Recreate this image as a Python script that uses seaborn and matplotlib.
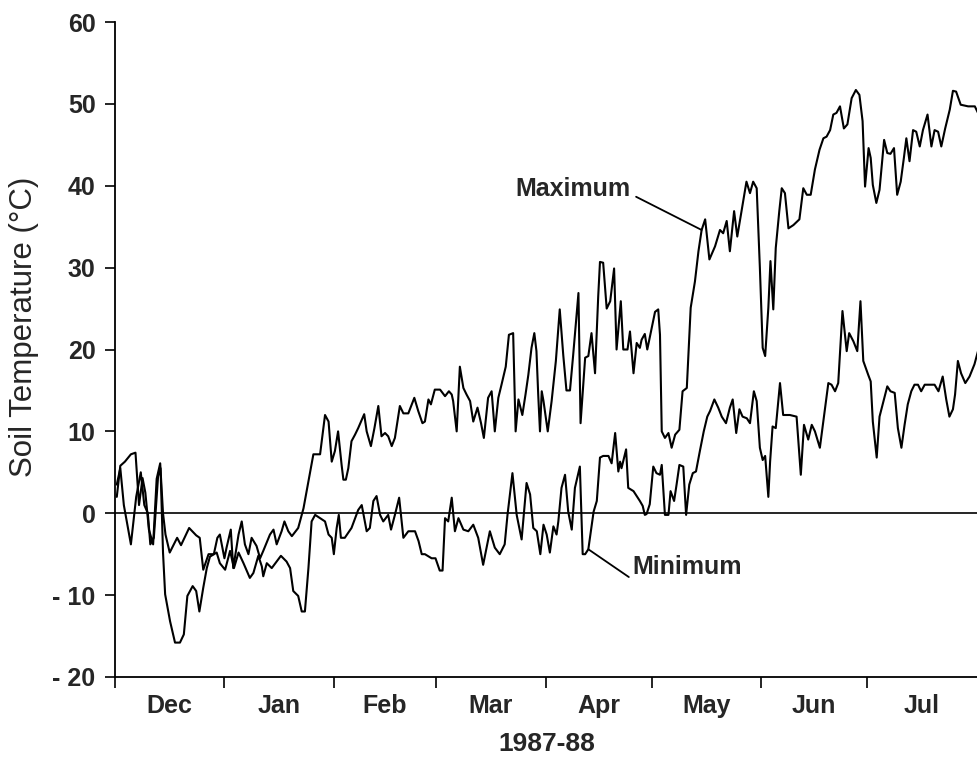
import numpy as np
import pandas as pd
import matplotlib
matplotlib.use("Agg")
import matplotlib.pyplot as plt
import seaborn as sns

# Daily soil temperature extremes, December 1987 - July 1988.
# Day 0 = 1 December 1987.
month_labels = ["Dec", "Jan", "Feb", "Mar", "Apr", "May", "Jun", "Jul"]
month_lengths = [31, 31, 29, 31, 30, 31, 30, 31]
y_ticks = [-20, -10, 0, 10, 20, 30, 40, 50, 60]
y_tick_labels = ["- 20", "- 10", "0", "10", "20", "30", "40", "50", "60"]

max_day = [0.5, 1.5, 2.8, 4.5, 5.8, 6.8, 7.8, 8.6, 9.6, 10.8, 11.8, 12.8, 13.6, 14.3,
           15.5, 17.6, 18.7, 21.0, 23.0, 24.0, 25.0, 26.5, 28.0, 29.0, 29.7, 31.0,
           31.6, 32.8, 33.5, 35.0, 35.9, 36.8, 37.8, 38.7, 40.1, 41.1, 42.0, 43.9,
           44.9, 45.8, 47.2, 48.0, 49.1, 50.1, 51.9, 53.4, 56.2, 58.1, 59.5, 60.5,
           61.4, 62.3, 63.2, 64.2, 64.7, 65.4, 66.1, 67.0, 68.0, 68.9, 70.6, 71.3,
           72.5, 73.5, 74.6, 75.5, 76.5, 77.4, 78.4, 79.3, 80.7, 81.7, 83.1, 84.8,
           85.9, 87.1, 87.8, 88.8, 89.5, 90.6, 92.1, 93.5, 94.6, 95.4, 95.8, 96.8,
           97.7, 98.7, 99.6, 100.6, 101.5, 102.7, 103.7, 104.5, 105.7, 106.7, 107.6,
           108.6, 109.5, 110.7, 111.6, 112.8, 113.5, 114.3, 115.4, 116.3, 117.1,
           118.0, 118.8, 119.4, 119.9, 120.4, 120.9, 121.4, 122.6, 123.7, 124.9,
           126.0, 127.0, 127.9, 128.9, 129.8, 131.3, 131.9, 133.2, 134.1, 135.0,
           136.0, 136.9, 137.4, 138.3, 139.3, 140.3, 141.4, 142.1, 143.3, 144.0,
           145.2, 145.9, 146.9, 147.8, 148.7, 149.2, 150.1, 150.8, 153.0, 153.9,
           154.4, 154.9, 155.8, 156.8, 157.7, 158.7, 159.9, 160.8, 162.0, 163.1,
           164.3, 165.3, 166.2, 167.2, 168.4, 170.0, 171.4, 172.3, 173.3, 174.2,
           175.4, 176.3, 177.5, 178.9, 179.9, 180.8, 181.8, 182.7, 183.5, 184.2,
           185.1, 185.7, 186.5, 187.2, 188.2, 188.9, 189.8, 190.8, 192.2, 193.9,
           195.0, 196.0, 197.1, 198.3, 199.6, 200.7, 201.6, 202.6, 203.5, 204.4,
           205.4, 206.5, 207.5, 208.7, 209.9, 210.9, 211.8, 212.5, 213.5, 214.1,
           214.7, 215.7, 216.6, 217.9, 218.8, 219.7, 220.7, 221.6, 222.6, 223.5,
           224.2, 225.1, 226.1, 227.0, 228.0, 228.9, 230.2, 231.3, 232.2, 233.2,
           234.1, 235.2, 236.5, 237.4, 238.3, 239.6, 241.7, 243.6, 244.5]
max_temp = [2.0, 5.8, 6.3, 7.2, 7.4, 1.0, 4.3, 2.5, -2.0, -3.8, 4.2, 6.1, 0.0, -2.6,
            -4.8, -3.0, -3.9, -1.8, -2.7, -3.0, -6.9, -5.0, -5.0, -3.0, -2.6, -5.5,
            -4.2, -2.0, -6.7, -2.6, -1.0, -3.8, -5.0, -3.0, -4.0, -5.5, -4.6, -2.6,
            -2.0, -3.8, -2.2, -1.0, -2.2, -2.8, -1.8, 0.6, 7.2, 7.2, 12.0, 11.2,
            6.3, 7.6, 10.0, 5.9, 4.1, 4.1, 5.5, 8.8, 9.6, 10.4, 12.1, 10.0,
            8.2, 10.4, 13.1, 9.4, 9.8, 9.4, 8.2, 9.2, 13.1, 12.2, 12.2, 14.1,
            12.5, 11.0, 11.2, 13.9, 13.3, 15.1, 15.1, 14.3, 14.9, 14.5, 13.7, 10.0,
            17.9, 15.3, 14.5, 13.7, 11.2, 12.9, 11.0, 9.2, 14.1, 14.9, 10.0,
            14.1, 15.7, 17.9, 21.8, 22.0, 10.0, 13.9, 12.0, 14.5, 16.9,
            20.2, 22.0, 19.8, 14.5, 10.0, 14.9, 13.7, 10.0, 13.7, 18.6,
            24.9, 19.3, 15.0, 15.0, 19.3, 26.9, 11.0, 19.0, 19.2, 22.0,
            17.1, 26.5, 30.7, 30.6, 25.0, 25.9, 29.9, 20.0, 25.9, 20.0,
            20.0, 22.2, 17.1, 20.8, 20.2, 21.2, 21.9, 20.0, 24.6, 24.9,
            21.8, 10.0, 9.2, 9.8, 8.0, 9.6, 10.2, 14.9, 15.3, 25.1,
            28.3, 32.0, 34.6, 35.9, 31.0, 32.6, 34.6, 34.2, 35.7, 32.0,
            36.9, 33.8, 36.9, 40.5, 39.1, 40.5, 39.7, 30.0, 20.2, 19.2,
            25.1, 30.8, 24.9, 32.4, 36.9, 39.7, 39.1, 34.8, 35.2, 35.9,
            39.7, 38.9, 38.9, 42.0, 44.4, 45.8, 46.0, 46.8, 48.7, 48.9,
            49.7, 47.0, 47.5, 50.7, 51.7, 51.1, 47.9, 39.9, 44.6, 43.4,
            40.1, 37.9, 39.5, 45.6, 44.0, 43.9, 44.6, 38.9, 40.5, 43.4,
            45.8, 43.0, 46.8, 46.6, 44.8, 46.8, 48.7, 44.8, 46.8, 46.6,
            44.8, 47.0, 49.3, 51.6, 51.5, 49.9, 49.7, 49.7, 48.9]

min_day = [0.5, 1.5, 2.5, 4.5, 6.0, 7.3, 8.3, 9.3, 10.0, 11.0, 12.2, 12.9, 13.6, 14.2,
           15.6, 17.0, 18.4, 19.5, 20.5, 22.0, 23.0, 23.9, 25.0, 26.0, 26.9, 28.8,
           29.7, 31.2, 32.6, 33.7, 35.0, 36.4, 38.2, 39.2, 40.6, 41.6, 42.0, 43.0,
           44.4, 45.8, 47.0, 48.6, 49.6, 50.5, 51.9, 52.9, 53.8, 54.8, 55.7, 56.7,
           58.1, 59.5, 60.5, 61.4, 62.0, 62.8, 63.4, 64.0, 65.1, 67.0, 68.9, 69.9,
           71.3, 72.2, 73.2, 74.1, 75.1, 76.0, 77.4, 78.2, 79.3, 80.5, 81.2, 81.7,
           83.1, 85.0, 86.0, 86.9, 87.8, 89.7, 90.8, 92.0, 92.8, 93.5, 94.4, 95.4,
           96.3, 97.3, 98.7, 100.1, 101.5, 102.9, 104.3, 106.2, 107.6, 109.0, 110.4,
           111.2, 112.6, 113.8, 115.2, 116.6, 117.6, 118.5, 119.5, 120.5, 121.4,
           122.3, 123.2, 124.2, 125.1, 125.6, 126.5, 127.5, 128.4, 129.4, 130.3,
           131.7, 132.5, 133.2, 134.1, 135.6, 136.5, 137.4, 138.3, 139.8, 140.7,
           141.7, 142.6, 143.1, 143.5, 144.8, 145.4, 146.9, 147.8, 148.7, 149.5,
           150.1, 150.6, 151.5, 152.5, 153.4, 154.4, 154.9, 155.8, 156.8, 157.4,
           158.4, 159.1, 159.9, 161.0, 161.8, 162.7, 163.7, 164.6, 165.7, 166.8,
           167.8, 168.6, 169.8, 170.9, 171.9, 173.1, 174.2, 175.0, 176.0, 176.9,
           177.8, 179.0, 179.9, 181.0, 181.8, 182.7, 183.5, 184.2, 185.1, 185.6,
           186.3, 187.2, 188.4, 189.3, 191.2, 193.1, 194.3, 195.2, 196.4, 197.4,
           198.3, 199.7, 200.9, 202.1, 203.0, 204.0, 204.9, 206.1, 207.3, 208.0,
           209.2, 210.3, 211.2, 212.0, 213.4, 214.1, 214.7, 215.8, 216.6, 217.6,
           218.8, 219.7, 220.9, 221.8, 222.8, 223.7, 224.6, 225.6, 226.5, 227.5,
           228.4, 229.4, 232.2, 233.3, 234.5, 235.5, 236.4, 237.4, 238.0, 238.8,
           239.7, 240.9, 242.1, 243.5, 244.5]
min_temp = [3.5, 5.5, 1.0, -3.8, 2.0, 5.0, 1.0, 0.0, -3.8, -3.0, 4.5, 5.5, -4.8, -9.9,
            -13.2, -15.8, -15.8, -14.8, -10.1, -8.9, -9.5, -12.0, -9.1, -6.7, -5.3, -4.8,
            -6.1, -6.9, -4.6, -6.7, -4.8, -6.1, -7.9, -7.3, -5.2, -6.5, -7.7, -6.1,
            -6.7, -5.9, -5.2, -5.9, -6.7, -9.5, -10.1, -12.0, -12.0, -6.7, -1.0, -0.2,
            -0.6, -1.0, -2.6, -3.0, -5.0, -1.8, -0.2, -3.0, -3.0, -1.8, 0.4, 1.0,
            -2.2, -1.8, 1.5, 2.1, -0.2, -1.0, -0.2, -2.0, -0.2, 1.9, -1.0, -3.0,
            -2.2, -2.2, -3.4, -5.0, -5.0, -5.5, -5.5, -7.0, -7.0, -0.6, -1.0, 1.9,
            -2.2, -0.6, -2.0, -2.2, -1.4, -3.0, -6.3, -2.2, -4.2, -5.0, -3.8,
            -0.2, 4.9, -0.2, -3.2, 3.7, 2.3, -1.8, -2.2, -5.0, -1.4,
            -2.6, -4.8, -1.6, -2.6, -1.0, 3.1, 4.7, 0.2, -2.0, 3.1,
            5.7, -5.0, -5.0, -4.4, 0.2, 1.5, 6.8, 7.0, 7.0, 6.1,
            9.8, 5.1, 6.3, 5.5, 7.8, 3.1, 2.7, 2.1, 1.5, 0.9,
            -0.2, -0.1, 1.1, 5.7, 4.9, 4.7, 5.9, -0.2, -0.2, 2.7,
            1.5, 3.5, 5.9, 5.7, -0.2, 3.5, 4.9, 5.1, 7.6, 10.0,
            11.8, 12.5, 13.9, 12.9, 11.8, 11.0, 12.9, 13.9, 9.8, 12.7,
            11.8, 11.6, 11.0, 14.9, 13.7, 8.0, 6.5, 7.0, 2.0, 6.3,
            10.6, 10.4, 15.9, 12.0, 12.0, 11.8, 4.7, 10.8, 9.0, 10.8,
            10.0, 8.0, 12.0, 15.9, 15.7, 14.9, 15.9, 24.7, 19.8, 22.0,
            21.0, 19.8, 25.9, 18.6, 16.9, 16.1, 11.2, 6.8, 11.8, 13.5,
            15.5, 14.9, 14.7, 10.4, 8.0, 10.8, 13.3, 14.9, 15.7, 15.7,
            14.9, 15.7, 15.7, 14.9, 16.7, 13.9, 11.8, 12.7, 14.5, 18.6,
            17.1, 15.9, 16.7, 18.2, 19.8]

sns.set_theme(style="ticks")
plt.rcParams["font.family"] = ["Liberation Sans", "DejaVu Sans"]

df = pd.concat([
    pd.DataFrame({"day": max_day, "temp": max_temp, "series": "Maximum"}),
    pd.DataFrame({"day": min_day, "temp": min_temp, "series": "Minimum"}),
], ignore_index=True)

fig = plt.figure(figsize=(9.78, 7.57), dpi=100)
ax = fig.add_axes([0.1176, 0.1057, 0.8824, 0.8652])

ax.axhline(0, color="black", lw=1.2, zorder=1)
sns.lineplot(data=df, x="day", y="temp", hue="series", estimator=None, sort=False,
             palette={"Maximum": "black", "Minimum": "black"}, linewidth=1.5,
             legend=False, ax=ax, zorder=2)

bounds = np.cumsum([0] + month_lengths)
mids = (bounds[:-1] + bounds[1:]) / 2
ax.set_xlim(0, 244.5)
ax.set_ylim(-20, 60)
ax.set_xticks(bounds[:-1])
ax.set_xticklabels([])
ax.set_xticks(mids, minor=True)
ax.set_xticklabels(month_labels, minor=True, fontsize=18, fontweight="bold")
ax.tick_params(axis="x", which="major", length=8, width=1.2, color="black")
ax.tick_params(axis="x", which="minor", length=0, pad=12.5)
ax.set_yticks(y_ticks)
ax.set_yticklabels(y_tick_labels, fontsize=18, fontweight="bold")
ax.tick_params(axis="y", length=7, width=1.2, pad=7, color="black")

for side in ["top", "right"]:
    ax.spines[side].set_visible(False)
for side in ["left", "bottom"]:
    ax.spines[side].set_linewidth(1.3)
    ax.spines[side].set_color("black")

ax.set_xlabel("1987-88", fontsize=19, fontweight="bold", labelpad=10)
ax.set_ylabel("Soil Temperature (\u00b0C)", fontsize=22.5)
ax.yaxis.set_label_coords(-0.088, 0.535)

ax.annotate("Maximum", xy=(166.2, 34.6), xytext=(146, 39.6), ha="right", va="center",
            fontsize=18, fontweight="bold",
            arrowprops=dict(arrowstyle="-", color="black", lw=1.3,
                            relpos=(1.0, 0.3), shrinkA=2, shrinkB=0))
ax.annotate("Minimum", xy=(134.1, -4.4), xytext=(146.5, -6.6), ha="left", va="center",
            fontsize=18, fontweight="bold",
            arrowprops=dict(arrowstyle="-", color="black", lw=1.3,
                            relpos=(0.0, 0.0), shrinkA=0, shrinkB=0))

fig.savefig("out.png", dpi=100, facecolor="white")
